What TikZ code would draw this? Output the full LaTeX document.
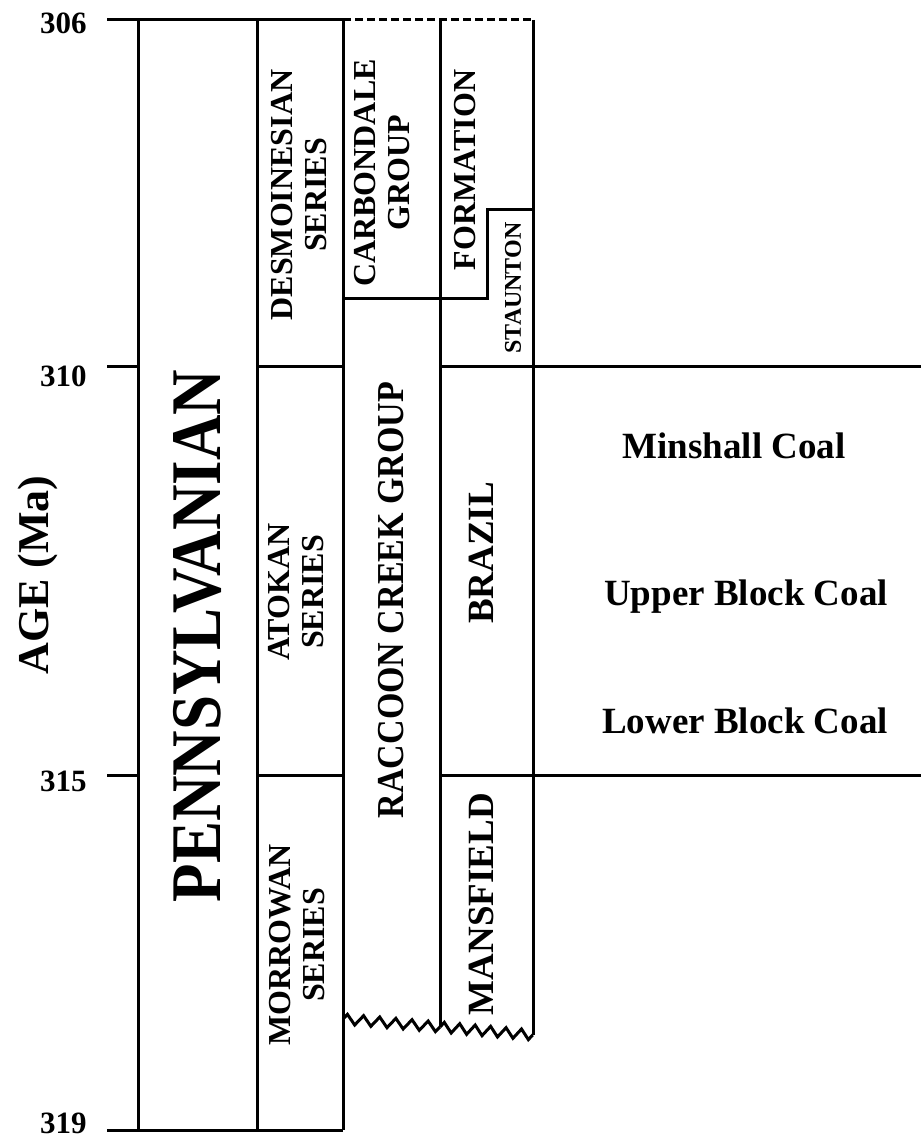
\documentclass[tikz,border=0pt]{standalone}
\usepackage{fontspec}
\setmainfont{Liberation Serif}
\usetikzlibrary{decorations.pathmorphing}
\begin{document}
\begin{tikzpicture}[x=1pt,y=-1pt,line width=3pt,line cap=butt,
  rlbl/.style={font=\bfseries\fontsize{32}{34}\selectfont,rotate=90,align=center,inner sep=0pt},
  biglbl/.style={font=\bfseries\fontsize{37}{40}\selectfont,rotate=90,inner sep=0pt},
  agelbl/.style={font=\bfseries\fontsize{31}{33}\selectfont,anchor=east,inner sep=0pt},
  coallbl/.style={font=\bfseries\fontsize{37}{39}\selectfont,anchor=base,inner sep=0pt},
  zz/.style={decorate,decoration={zigzag,segment length=#1,amplitude=5pt}}]
\useasboundingbox (0,0) rectangle (921,1147);

% frame lines
\draw (107,20) -- (343,20);
\draw[dash pattern=on 8pt off 4pt] (343,20) -- (533,20);
\draw (107,1130) -- (343,1130);
\draw (107,366) -- (138,366);
\draw (107,775) -- (138,775);
\draw (138,20) -- (138,1130);
\draw (257,20) -- (257,1130);
\draw (343,20) -- (343,1130);
\draw (440,20) -- (440,1027);
\draw (533,20) -- (533,1035);
\draw (257,366) -- (343,366);
\draw (257,775) -- (343,775);
\draw (343,298) -- (487,298) -- (487,210) -- (533,210);
\draw (440,366) -- (921,366);
\draw (440,775) -- (921,775);
\draw[zz=16.2pt] (343,1019) -- (440,1027);
\draw[zz=15.5pt] (440,1027) -- (533,1035);

% age labels
\node[agelbl] (a306) at (88,23) {306};
\node[agelbl] (a310) at (88,376) {310};
\node[agelbl] (a315) at (88,781) {315};
\node[agelbl] (a319) at (88,1123) {319};
\node[font=\bfseries\fontsize{44}{46}\selectfont,rotate=90,inner sep=0pt] (age) at (38,575) {AGE (Ma)};

% column labels
\node[font=\bfseries\fontsize{63}{65}\selectfont,rotate=90,inner sep=0pt] (penn) at (197,636) {\scalebox{1}[1.13]{PENNSYLVANIAN}};
\node[rlbl] (des) at (299,195) {DESMOINESIAN\\SERIES};
\node[rlbl] (ato) at (296,592) {ATOKAN\\SERIES};
\node[rlbl] (mor) at (297,945) {MORROWAN\\SERIES};
\node[rlbl] (carb) at (382,173) {CARBONDALE\\GROUP};
\node[rlbl] (form) at (465,170) {FORMATION};
\node[font=\bfseries\fontsize{24}{26}\selectfont,rotate=90,inner sep=0pt] (stau) at (513,288) {STAUNTON};
\node[font=\bfseries\fontsize{34}{36}\selectfont,rotate=90,inner sep=0pt] (racc) at (391,600) {\scalebox{1}[1.12]{RACCOON CREEK GROUP}};
\node[biglbl] (braz) at (481,553) {BRAZIL};
\node[biglbl] (mans) at (481,904) {MANSFIELD};

% coal labels
\node[coallbl] (minc) at (734,458) {Minshall Coal};
\node[coallbl] (upc) at (746,605) {Upper Block Coal};
\node[coallbl] (loc) at (745,733) {Lower Block Coal};
\end{tikzpicture}
\end{document}
